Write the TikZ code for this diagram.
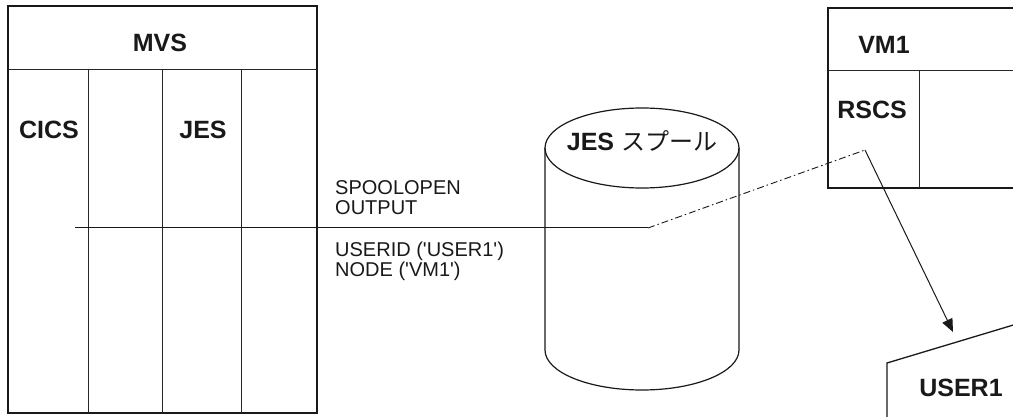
\documentclass[tikz,border=0pt]{standalone}
\usepackage{fontspec}
\setmainfont{Liberation Sans}
\newfontfamily\jpfont{Noto Sans CJK JP}
\usetikzlibrary{arrows.meta}
\newcommand{\sq}{\textquotesingle}
\begin{document}
\begin{tikzpicture}[x=1pt,y=-1pt,
  frame/.style={draw=black!90,line width=1.3pt},
  col/.style={draw=black!85,line width=1pt},
  boldlabel/.style={font=\fontsize{25}{28}\selectfont\bfseries,text=black!90,inner sep=0pt},
  plainlabel/.style={font=\fontsize{20}{20}\selectfont,text=black!90,inner sep=0pt,align=left,anchor=west},
  flow/.style={draw=black!90,line width=1pt},
  dashdot/.style={draw=black!90,line width=0.9pt,dash pattern=on 7pt off 3pt on 1.5pt off 3pt},
  tip/.style={-{Triangle[length=13pt,width=11pt]}}]
\useasboundingbox (0,0) rectangle (1013,417);
\clip (0,0) rectangle (1013,417);
% MVS box
\draw[frame] (8,6) rectangle (317,413);
\draw[col] (8,70) -- (317,70);
\draw[col] (88,70) -- (88,413);
\draw[col] (162,70) -- (162,413);
\draw[col] (241,70) -- (241,413);
\node[boldlabel] (mvs) at (160,43) {MVS};
\node[boldlabel] (cics) at (49,130) {CICS};
\node[boldlabel] (jes) at (203,130) {JES};
% cylinder
\draw[frame,line width=1.2pt] (545,148) -- (545,350) arc[start angle=180,end angle=360,x radius=97pt,y radius=40pt] -- (739,148);
\draw[frame,line width=1.2pt] (642,148) ellipse [x radius=97pt,y radius=40pt];
\node[inner sep=0pt,text=black!90] (spool) at (642,141) {\fontsize{25}{28}\selectfont\bfseries JES \jpfont\fontsize{24}{28}\selectfont\mdseries スプール};
% VM1 box
\draw[frame] (828,8) rectangle (1030,188);
\draw[col] (828,71) -- (1030,71);
\draw[col] (919,71) -- (919,188);
\node[boldlabel] (vm1) at (884,45) {VM1};
\node[boldlabel] (rscs) at (872,110) {RSCS};
% USER1 terminal
\draw[frame] (887,430) -- (887,363) -- (1030,320);
\node[boldlabel] (user1) at (961,388) {USER1};
% labels
\node[plainlabel] (req1) at (335,198) {SPOOLOPEN\\OUTPUT};
\node[plainlabel] (req2) at (335,261) {USERID (\sq USER1\sq)\\NODE (\sq VM1\sq)};
% connectors
\coordinate (start) at (75,228);
\coordinate (spoolin) at (648,228);
\coordinate (rscsin) at (865,150);
\coordinate (term) at (953,332);
\draw[flow] (start) -- (spoolin);
\draw[dashdot] (spoolin) -- (rscsin);
\draw[flow,tip] (rscsin) -- (term);
\end{tikzpicture}
\end{document}
